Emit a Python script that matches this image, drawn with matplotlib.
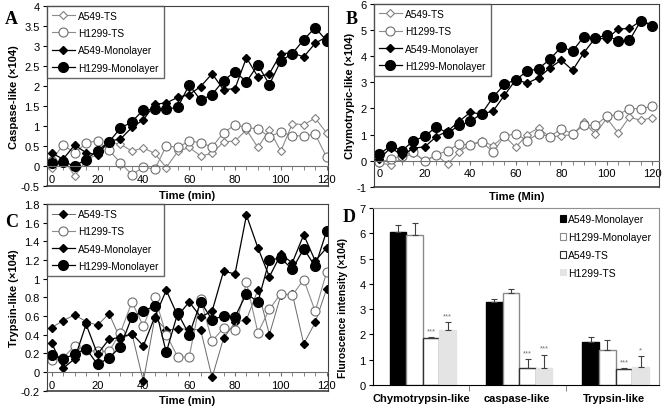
import matplotlib

matplotlib.use("Agg")
import matplotlib.pyplot as plt
import numpy as np
from matplotlib.patches import Patch
from matplotlib.ticker import FuncFormatter, MultipleLocator

plt.rcParams["font.family"] = ["Liberation Sans", "DejaVu Sans"]

time_min = list(range(0, 121, 5))
series_names = ["A549-TS", "H1299-TS", "A549-Monolayer", "H1299-Monolayer"]

# Panel A: caspase-like activity (x10^4)
caspase_a549_ts = [-0.04, 0.18, -0.25, 0.13, 0.30, 0.60, 0.54, 0.37, 0.45, 0.31, -0.04, 0.36, 0.46,
                   0.25, 0.31, 0.60, 0.62, 0.90, 0.46, 0.90, 0.37, 1.05, 1.03, 1.19, 0.82]
caspase_h1299_ts = [0.13, 0.53, 0.32, 0.57, 0.63, 0.39, 0.08, -0.22, -0.03, -0.08, 0.50, 0.46, 0.62,
                    0.58, 0.47, 0.83, 1.02, 0.96, 0.92, 0.73, 0.85, 0.75, 0.75, 0.79, 0.22]
caspase_a549_mono = [0.32, 0.17, 0.52, 0.33, 0.28, 0.62, 0.67, 0.96, 1.15, 1.54, 1.57, 1.71, 1.78,
                     1.98, 2.30, 1.90, 1.93, 2.70, 2.22, 2.30, 2.80, 2.82, 2.72, 3.06, 3.22]
caspase_h1299_mono = [0.08, 0.10, 0.00, 0.16, 0.38, 0.60, 0.94, 1.10, 1.40, 1.41, 1.42, 1.46, 2.02,
                      1.64, 1.78, 2.13, 2.35, 2.10, 2.52, 2.03, 2.62, 2.80, 3.15, 3.45, 3.12]

# Panel B: chymotrypsin-like activity (x10^4)
chymo_a549_ts = [-0.10, -0.15, 0.09, 0.30, 0.00, 0.22, -0.14, 0.33, 0.62, 0.74, 0.58, 0.94, 0.51,
                 1.00, 1.25, 0.90, 0.96, 0.99, 1.47, 1.01, 1.63, 1.06, 1.67, 1.54, 1.65]
chymo_h1299_ts = [-0.06, 0.06, 0.19, 0.32, -0.03, 0.22, 0.38, 0.64, 0.60, 0.73, 0.32, 0.94, 1.03,
                  0.77, 1.03, 0.92, 1.22, 1.03, 1.35, 1.35, 1.70, 1.76, 1.99, 1.99, 2.08]
chymo_a549_mono = [0.06, 0.50, 0.20, 0.48, 0.53, 0.92, 1.13, 1.50, 1.85, 1.78, 1.90, 2.50, 3.10,
                   2.97, 3.17, 3.55, 3.85, 3.46, 4.14, 4.70, 4.65, 5.04, 5.06, 5.35, 5.20]
chymo_h1299_mono = [0.25, 0.57, 0.38, 0.77, 0.93, 1.30, 1.05, 1.35, 1.50, 1.80, 2.43, 2.92, 3.10,
                    3.42, 3.52, 3.88, 4.35, 4.20, 4.75, 4.70, 4.80, 4.58, 4.60, 5.36, 5.15]

# Panel C: trypsin-like activity (x10^4)
trypsin_a549_ts = [0.475, 0.55, 0.61, 0.54, 0.50, 0.625, 0.35, 0.41, -0.10, 0.58, 0.45, 0.46, 0.46,
                   0.45, -0.06, 0.36, 0.53, 0.56, 0.88, 0.40, 0.82, 0.84, 0.30, 0.53, 0.89]
trypsin_h1299_ts = [0.125, 0.15, 0.28, 0.23, 0.22, 0.22, 0.42, 0.75, 0.49, 0.80, 0.40, 0.16, 0.16,
                    0.78, 0.33, 0.47, 0.45, 0.96, 0.42, 0.67, 0.84, 0.82, 0.99, 0.65, 1.07]
trypsin_a549_mono = [0.31, 0.04, 0.14, 0.51, 0.19, 0.35, 0.37, 0.41, 0.28, 0.59, 0.875, 0.60, 0.75,
                     0.59, 0.65, 1.08, 1.05, 1.68, 1.33, 1.02, 1.26, 1.17, 1.47, 1.19, 1.33]
trypsin_h1299_mono = [0.18, 0.14, 0.19, 0.25, 0.08, 0.15, 0.27, 0.59, 0.65, 0.71, 0.21, 0.63, 0.40,
                      0.75, 0.56, 0.60, 0.59, 0.84, 0.75, 1.20, 1.22, 1.10, 1.32, 1.13, 1.51]

# Panel D: endpoint fluorescence intensity (x10^4)
activity_types = ["Chymotrypsin-like", "caspase-like", "Trypsin-like"]
bar_names = ["A549-Monolayer", "H1299-Monolayer", "A549-TS", "H1299-TS"]
bar_means = [
    [6.06, 3.27, 1.69],
    [5.93, 3.62, 1.40],
    [1.86, 0.66, 0.62],
    [2.19, 0.67, 0.70],
]
bar_errors = [
    [0.28, 0.13, 0.19],
    [0.46, 0.16, 0.39],
    [0.02, 0.35, 0.05],
    [0.30, 0.53, 0.43],
]
bar_marks = [
    ["", "", ""],
    ["", "", ""],
    ["***", "***", "***"],
    ["***", "***", "*"],
]

FRAME = "#404040"
GRAY_LINE = "#8c8c8c"


def style_line(name, panel_c=False):
    if name == "A549-TS":
        if panel_c:
            return dict(marker="D", ms=4.3, mfc="black", mec="black", color="#6a6a6a", lw=0.7)
        return dict(marker="D", ms=4.3, mfc="white", mec="#808080", mew=0.8, color=GRAY_LINE, lw=0.8)
    if name == "H1299-TS":
        return dict(marker="o", ms=6.5, mfc="white", mec="#707070", mew=0.8, color=GRAY_LINE, lw=0.8)
    if name == "A549-Monolayer":
        return dict(marker="D", ms=4.3, mfc="black", mec="black", color="black", lw=0.9)
    return dict(marker="o", ms=7, mfc="black", mec="black", color="black", lw=0.9)


def draw_timecourse(ax, data, ylim, ystep, ylabel, xlabel, xlim, panel_c=False):
    for name, values in zip(series_names, data):
        ax.plot(time_min, values, label=name, **style_line(name, panel_c))

    ax.set_xlim(*xlim)
    ax.set_ylim(*ylim)
    ax.yaxis.set_major_locator(MultipleLocator(ystep))
    ax.yaxis.set_major_formatter(FuncFormatter(lambda v, p: f"{round(v, 2):g}"))
    ax.xaxis.set_major_locator(MultipleLocator(20))
    ax.xaxis.set_minor_locator(MultipleLocator(5))

    ax.spines["bottom"].set_position(("data", 0))
    ax.spines["bottom"].set_color("#707070")
    for side in ["top", "right", "left"]:
        ax.spines[side].set_color(FRAME)
    ax.plot([0, 1], [0, 0], transform=ax.transAxes, color=FRAME, lw=1.2, clip_on=False)

    ax.tick_params(axis="x", which="both", direction="out", length=3, labelsize=8, pad=2.5,
                   color="#707070")
    ax.tick_params(axis="y", direction="out", length=3, labelsize=8, pad=2)
    ax.set_ylabel(ylabel, fontsize=8, fontweight="bold", labelpad=1)
    ax.set_xlabel(xlabel, fontsize=8, fontweight="bold")
    ax.xaxis.set_label_coords(0.5, -0.025)
    ax.xaxis.label.set_va("top")

    leg = ax.legend(loc="upper left", fontsize=7.3, frameon=True, fancybox=False,
                    borderaxespad=0, handlelength=2.3, labelspacing=0.72, borderpad=0.5,
                    handletextpad=0.3)
    leg.get_frame().set_edgecolor(FRAME)
    leg.get_frame().set_linewidth(1.0)


def draw_bars(ax):
    x = np.arange(len(activity_types))
    width = 0.172
    shift = 0.02
    faces = ["black", "white", "white", "#e4e4e4"]
    edges = ["black", "#8a8a8a", "#303030", "#e4e4e4"]

    for i, name in enumerate(bar_names):
        pos = x + shift + (i - 1.5) * width
        ax.bar(pos, bar_means[i], width, color=faces[i], edgecolor=edges[i], linewidth=1.0,
               label=name, zorder=2)
        ax.errorbar(pos, bar_means[i], yerr=[np.zeros(len(x)), bar_errors[i]], fmt="none",
                    ecolor="#404040", elinewidth=0.8, capsize=2.2, capthick=0.8, zorder=3)
        for px, m, e, mark in zip(pos, bar_means[i], bar_errors[i], bar_marks[i]):
            if mark:
                ax.text(px, m + e + 0.12, mark, ha="center", va="bottom", fontsize=5.5,
                        color="#707070")

    ax.set_xlim(-0.5, 2.47)
    ax.set_ylim(0, 7)
    ax.yaxis.set_major_locator(MultipleLocator(1))
    ax.set_xticks(x)
    ax.set_xticklabels(activity_types, fontsize=8, fontweight="bold")
    ax.set_xticks([0.5, 1.5], minor=True)
    ax.tick_params(axis="x", which="major", length=0, pad=6)
    ax.tick_params(axis="x", which="minor", length=4, direction="out", color="#707070")
    ax.tick_params(axis="y", direction="out", length=3, labelsize=8, pad=2)
    ax.spines["top"].set_color("#909090")
    ax.spines["right"].set_color("#909090")
    ax.set_ylabel("Fluroscence intensity (\u00d7104)", fontsize=7.5, fontweight="bold")
    ax.yaxis.set_label_coords(-0.085, 0.44)

    handles = [Patch(facecolor=f, edgecolor=e, linewidth=0.8) for f, e in zip(faces, edges)]
    ax.legend(handles, bar_names, loc="upper right", fontsize=7.5, frameon=False,
              handlelength=0.6, handleheight=0.6, handletextpad=0.2, labelspacing=0.75,
              borderaxespad=0.2, bbox_to_anchor=(0.995, 1.0))


def main():
    fig = plt.figure(figsize=(6.62, 4.10), dpi=100)

    ax_a = fig.add_axes([0.0705, 0.544, 0.425, 0.440])
    ax_b = fig.add_axes([0.5645, 0.542, 0.431, 0.446])
    ax_c = fig.add_axes([0.0705, 0.045, 0.425, 0.455])
    ax_d = fig.add_axes([0.563, 0.0585, 0.4325, 0.4317])

    draw_timecourse(ax_a, [caspase_a549_ts, caspase_h1299_ts, caspase_a549_mono, caspase_h1299_mono],
                    (-0.5, 4), 0.5, "Caspase-like (\u00d7104)", "Time (min)", (-2.2, 120.6))
    draw_timecourse(ax_b, [chymo_a549_ts, chymo_h1299_ts, chymo_a549_mono, chymo_h1299_mono],
                    (-1, 6), 1, "Chymotrypic-like (\u00d7104)", "Time (Min)", (-2.5, 123))
    draw_timecourse(ax_c, [trypsin_a549_ts, trypsin_h1299_ts, trypsin_a549_mono, trypsin_h1299_mono],
                    (-0.2, 1.8), 0.2, "Trypsin-like (\u00d7104)", "Time (min)", (-2.2, 120.6),
                    panel_c=True)
    draw_bars(ax_d)

    letter_font = dict(fontsize=13, fontweight="bold", family="Liberation Serif")
    fig.text(0.008, 0.972, "A", ha="left", va="top", **letter_font)
    fig.text(0.522, 0.972, "B", ha="left", va="top", **letter_font)
    fig.text(0.008, 0.478, "C", ha="left", va="top", **letter_font)
    fig.text(0.518, 0.49, "D", ha="left", va="top", **letter_font)

    fig.savefig("out.png", dpi=100)
    plt.close(fig)


if __name__ == "__main__":
    main()
